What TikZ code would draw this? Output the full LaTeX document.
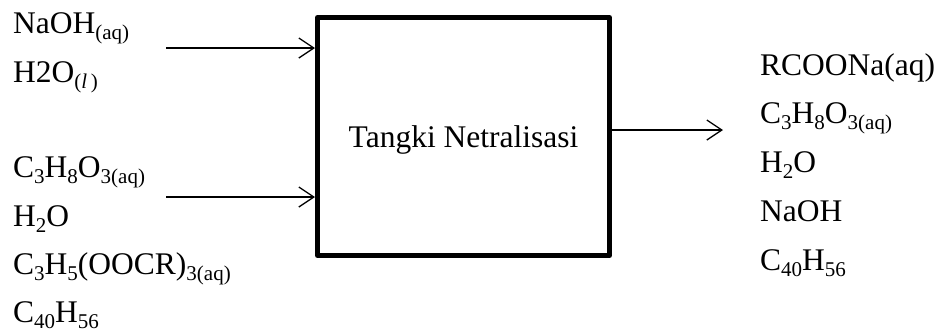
\documentclass[tikz,border=0pt]{standalone}
\usepackage{fontspec}
\setmainfont{Liberation Serif}
\usetikzlibrary{arrows.meta}
\newcommand\chsub[1]{\raisebox{-6.5pt}{\fontsize{21}{24}\selectfont #1}}
\begin{document}
\begin{tikzpicture}[x=1pt,y=-1pt,
  lbl/.style={anchor=base west,inner sep=0pt,font=\fontsize{31.5}{38}\selectfont},
  tank/.style={draw,line width=5pt,line join=round,minimum width=292pt,minimum height=238pt,
    inner sep=0pt,text depth=0pt,font=\fontsize{31.5}{38}\selectfont},
  flow/.style={line width=1.3pt,-{Straight Barb[length=15pt,width=20pt,line width=1.3pt]}}]
\useasboundingbox (0,0) rectangle (938,333);
\node[tank] (box) at (463.5,136.5) {Tangki Netralisasi};
% left inputs
\node[lbl] (a1) at (13,33) {NaOH\chsub{(aq)}};
\node[lbl] (a2) at (13,82) {H2O\chsub{(\textit{l}\,)}};
\node[lbl] (b1) at (13,177) {C\chsub{3}H\chsub{8}O\chsub{3(aq)}};
\node[lbl] (b2) at (13,226) {H\chsub{2}O};
\node[lbl] (b3) at (13,274) {C\chsub{3}H\chsub{5}(OOCR)\chsub{3(aq)}};
\node[lbl] (b4) at (13,322) {C\chsub{40}H\chsub{56}};
% right outputs
\node[lbl] (c1) at (760,75) {RCOONa(aq)};
\node[lbl] (c2) at (760,123) {C\chsub{3}H\chsub{8}O\chsub{3(aq)}};
\node[lbl] (c3) at (760,172) {H\chsub{2}O};
\node[lbl] (c4) at (760,221) {NaOH};
\node[lbl] (c5) at (760,270) {C\chsub{40}H\chsub{56}};
% connectors
\coordinate (in1) at (166,48);
\coordinate (in2) at (166,197);
\coordinate (out) at (723,130);
\draw[flow] (in1) -- (box.west |- in1);
\draw[flow] (in2) -- (box.west |- in2);
\draw[flow] (box.east |- out) -- (out);
\end{tikzpicture}
\end{document}
